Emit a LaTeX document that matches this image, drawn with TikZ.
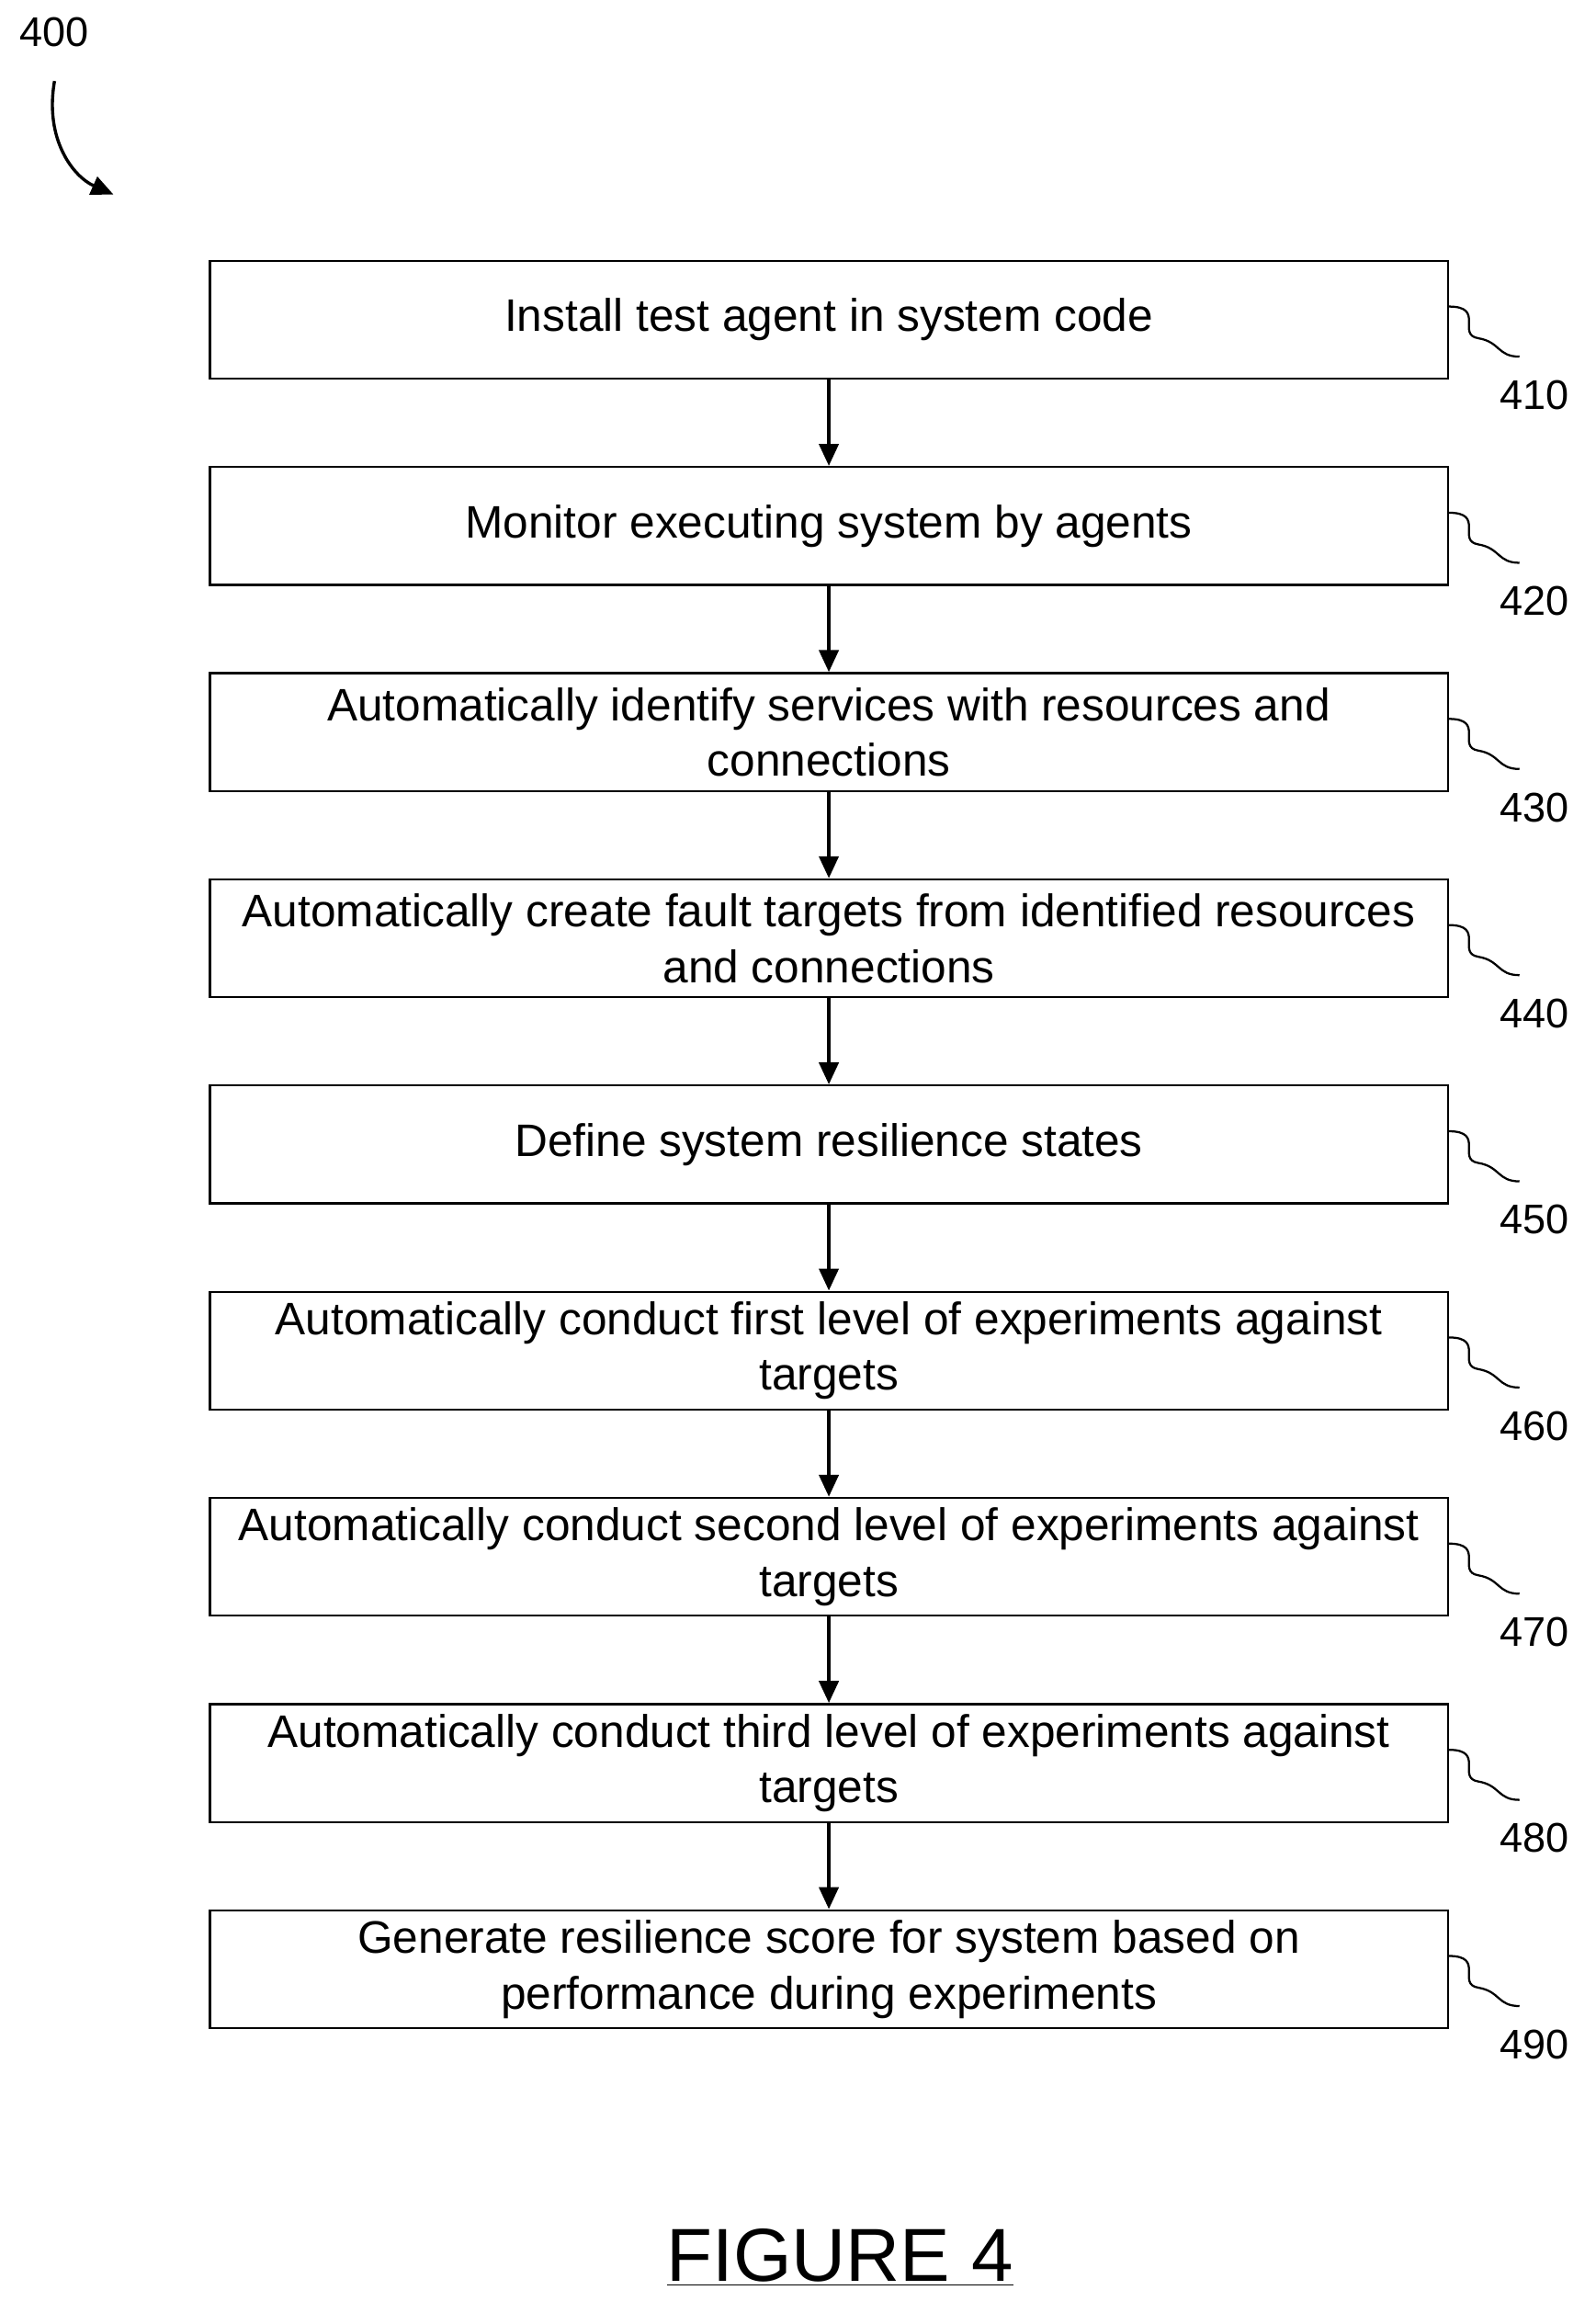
\documentclass[tikz,border=0pt]{standalone}
\usepackage{fontspec}
\setmainfont{Liberation Sans}
\usetikzlibrary{positioning,arrows.meta}
\tikzset{
  stepbox/.style={draw,thick,minimum width=16.8cm,minimum height=1.6cm,align=center,
    inner sep=1pt,font=\fontsize{17.6}{21.5}\selectfont},
  flow/.style={-{Triangle[length=0.3cm,width=0.26cm]},line width=1.6pt},
  lead/.style={thick},
  num/.style={font=\fontsize{16}{19}\selectfont}
}
\newcommand{\leadto}[2]{%
  \coordinate (#1s) at ([yshift=0.18cm]#1.east);
  \coordinate (#1e) at ([xshift=0.96cm,yshift=-0.5cm]#1.east);
  \draw[lead] (#1s) .. controls +(0.5,0) and +(-0.3,0.05) .. ([xshift=0.4cm,yshift=-0.25cm]#1.east)
    .. controls +(0.3,-0.05) and +(-0.3,0) .. (#1e);
  \node[num] (#1n) at ([xshift=1.16cm,yshift=-1.02cm]#1.east) {#2};}
\begin{document}
\begin{tikzpicture}
  \useasboundingbox (0,0) rectangle (21.66,-31.54);
  \node[num] (n400) at (0.74,-0.44) {400};
  \coordinate (a400) at (1.54,-2.64);
  \draw[flow,line width=1.2pt] (0.74,-1.1) .. controls (0.6,-1.9) and (1.0,-2.4) .. (a400);

  \node[stepbox] (b1) at (11.25,-4.34) {Install test agent in system code};
  \node[stepbox,below=1.17cm of b1] (b2) {Monitor executing system by agents};
  \node[stepbox,below=1.17cm of b2] (b3) {Automatically identify services with resources and\\connections};
  \node[stepbox,below=1.17cm of b3] (b4) {Automatically create fault targets from identified resources\\and connections};
  \node[stepbox,below=1.17cm of b4] (b5) {Define system resilience states};
  \node[stepbox,below=1.17cm of b5] (b6) {Automatically conduct first level of experiments against\\targets};
  \node[stepbox,below=1.17cm of b6] (b7) {Automatically conduct second level of experiments against\\targets};
  \node[stepbox,below=1.17cm of b7] (b8) {Automatically conduct third level of experiments against\\targets};
  \node[stepbox,below=1.17cm of b8] (b9) {Generate resilience score for system based on\\performance during experiments};

  \draw[flow] (b1) -- (b2);
  \draw[flow] (b2) -- (b3);
  \draw[flow] (b3) -- (b4);
  \draw[flow] (b4) -- (b5);
  \draw[flow] (b5) -- (b6);
  \draw[flow] (b6) -- (b7);
  \draw[flow] (b7) -- (b8);
  \draw[flow] (b8) -- (b9);

  \leadto{b1}{410}
  \leadto{b2}{420}
  \leadto{b3}{430}
  \leadto{b4}{440}
  \leadto{b5}{450}
  \leadto{b6}{460}
  \leadto{b7}{470}
  \leadto{b8}{480}
  \leadto{b9}{490}

  \node[font=\fontsize{29}{36}\selectfont] (fig) at (11.4,-30.64) {\underline{FIGURE 4}};
\end{tikzpicture}
\end{document}
